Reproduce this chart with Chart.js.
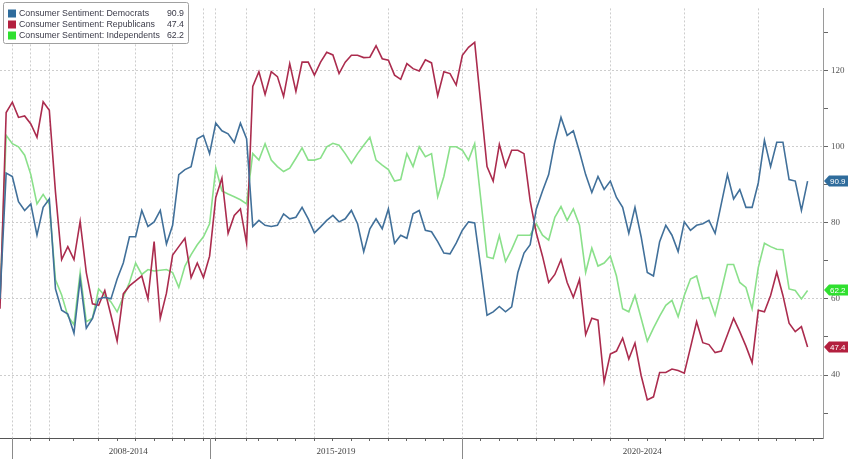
<!DOCTYPE html>
<html>
<head>
<meta charset="utf-8">
<script src="https://cdn.jsdelivr.net/npm/chart.js@4.4.1/dist/chart.umd.min.js"></script>
<style>
  html, body { margin: 0; padding: 0; background: #fff; }
  canvas { display: block; }
</style>
</head>
<body>
<canvas id="sentimentChart" width="848" height="459"></canvas>
<script>
// Series names shown in the legend box
const seriesNames = [
    "Consumer Sentiment: Democrats",
    "Consumer Sentiment: Republicans",
    "Consumer Sentiment: Independents"
];

const democrats = [
    60, 93, 92.1, 85.5, 83.2, 84.9, 76.7, 84, 86.2, 62.6,
    57, 56, 51, 65.2, 52.3, 54.9, 60, 60.4, 60, 65.2,
    69.4, 76.3, 76.3, 83.2, 79, 80.2, 83.2, 74.4, 79.3, 92.6,
    93.9, 94.7, 102, 102.9, 98.1, 106.1, 104.1, 103.3, 101, 106.1,
    102, 79, 80.6, 79.3, 79, 79.3, 82.3, 81, 81.4, 84,
    81, 77.3, 78.9, 80.6, 81.9, 80.2, 81, 83.2, 79.7, 72.4,
    78.4, 81, 78.4, 83.6, 74.6, 76.7, 75.9, 82.3, 83.2, 78,
    77.6, 75, 72, 71.8, 74.6, 78, 80.2, 79.9, 68, 55.7,
    56.6, 58, 56.6, 57.9, 66.9, 72, 74.2, 83.6, 88.3, 92.6,
    101.1, 107.6, 102.9, 104.1, 98.6, 92.6, 87.9, 92.1, 88.7, 90.9,
    86.6, 84, 77.2, 84, 76.3, 66.9, 66, 75, 79.3, 76.7,
    72.4, 80.2, 78, 79.3, 79.7, 80.6, 77.2, 84.9, 92.6, 86.2,
    88.7, 84, 84, 90.4, 101.6, 94.7, 101.1, 101.1, 91.3, 90.9,
    83.2, 90.9
];
const republicans = [
    57.4, 108.9, 111.6, 107.6, 108, 105.9, 102.4, 111.7, 109.5, 88,
    70.3, 73.7, 70.3, 80.3, 66.9, 58.7, 58.3, 62.2, 55.7, 48.9,
    61.3, 63.4, 64.7, 66, 60, 75, 54.9, 61.5, 71.5, 73.7,
    75.9, 65.6, 69.4, 65.6, 71.2, 86.6, 91.7, 77.2, 81.9, 83.6,
    74.6, 115.7, 119.6, 113.6, 119.6, 118.3, 113.1, 121.7, 114.4, 122.1,
    122.1, 118.7, 122.1, 124.7, 124, 119.1, 122.1, 123.9, 123.9, 123.3,
    123.4, 126.4, 123, 122.6, 118.7, 117.6, 121.7, 120.4, 119.8, 122.7,
    121.9, 113.3, 119.6, 119.1, 116.1, 123.9, 126, 127.3, 111, 94.7,
    90.9, 100.5, 94.7, 99, 99, 98.1, 85.7, 77.2, 71.2, 64.3,
    66.4, 70.3, 64.3, 60.4, 65.1, 50.6, 54.9, 54.4, 38.2, 45.5,
    46.3, 49.7, 44.2, 48.4, 39.9, 33.5, 34.3, 40.7, 40.7, 41.6,
    41.2, 40.5, 47.2, 54, 48.5, 48, 45.9, 46.3, 50.6, 54.9,
    51.4, 47.6, 43.3, 57, 56.6, 60.9, 67, 60.9, 53.6, 51.4,
    52.7, 47.4
];
const independents = [
    60, 102.9, 100.7, 99.9, 97.7, 92.6, 84.9, 87.4, 84.9, 65,
    61, 55.5, 53.2, 66.9, 54, 54.9, 62.6, 60.9, 59.2, 56.6,
    60.5, 64.3, 69.4, 66.4, 67.7, 67.3, 67.5, 67.7, 66.9, 63,
    68.6, 71.6, 74.2, 76.3, 79.7, 94.3, 88.3, 87.5, 86.8, 86,
    84.9, 98.1, 96.4, 100.7, 96.4, 94.7, 93.4, 94.3, 96.9, 99.6,
    96.4, 96.4, 96.9, 99.9, 100.8, 100.3, 98.1, 95.6, 98.1, 100.3,
    102.4, 96.4, 95.1, 93.9, 90.9, 91.3, 98.1, 94.7, 99.9, 97.3,
    98.1, 86.8, 92.1, 99.9, 99.9, 99, 96.4, 100.7, 86, 71,
    70.6, 76.6, 69.8, 73, 76.7, 76.7, 76.7, 79.7, 76.7, 75.4,
    81.4, 84.2, 80.6, 83.6, 79.3, 66.9, 73.3, 68.6, 69.4, 71.2,
    66, 57.4, 56.6, 60.9, 54.9, 48.9, 52.3, 55.5, 58.3, 59.6,
    55.3, 60.9, 65.2, 66, 60, 60.4, 55.7, 62.2, 69, 69,
    64.3, 63, 57.4, 68.2, 74.6, 73.7, 73, 72.9, 62.6, 62.2,
    60, 62.2
];

// Bottom axis: period labels, where they sit and where the periods split (observation index)
const periodLabels = ["2008-2014", "2015-2019", "2020-2024"];
const periodCenters = [20.8, 54.5, 104.2];
const periodBreaks = [2, 34, 75];

// Year gridlines and small axis ticks (observation index)
const yearLines = [2, 5, 8, 16, 22, 28, 33, 35, 40, 51, 63, 75, 87, 99, 111, 123];
const xMinorTicks = [2, 5, 8, 12, 16, 19, 22, 25, 28, 30, 33, 35, 40, 42, 45, 48,
    51, 54, 57, 60, 63, 66, 69, 72, 75, 78, 81, 84, 87, 90, 93, 96, 99, 102,
    105, 108, 111, 114, 117, 120, 123, 126, 129, 132];

// Right axis ticks: all get a mark, only these get a label and gridline
const yTicks = [30, 40, 50, 60, 70, 80, 90, 100, 110, 120, 130];
const yLabelTicks = [40, 60, 80, 100, 120];

const lineColors = ["#41709a", "#ab2c4e", "#8ae08a"];
const boxColors = ["#2f6c9c", "#b3203f", "#2fe02f"];

const axisFont = "'Liberation Serif', serif";
const legendFont = "8.8px 'Liberation Sans', sans-serif";
const tagFont = "8px 'Liberation Sans', sans-serif";

function lastValue(ds) {
    return ds.data[ds.data.length - 1].y;
}

// Period labels under the axis with their separator lines
const periodAxis = {
    id: "periodAxis",
    afterDraw(chart) {
        let ctx = chart.ctx;
        let x = chart.scales.x;
        let bottom = chart.chartArea.bottom;
        ctx.save();
        ctx.strokeStyle = "#8a8a8a";
        ctx.lineWidth = 1;
        periodBreaks.forEach(b => {
            let px = Math.round(x.getPixelForValue(b)) + 0.5;
            ctx.beginPath();
            ctx.moveTo(px, bottom);
            ctx.lineTo(px, chart.height);
            ctx.stroke();
        });
        ctx.fillStyle = "#444";
        ctx.font = "9px " + axisFont;
        ctx.textAlign = "center";
        ctx.textBaseline = "middle";
        periodLabels.forEach((t, i) => {
            ctx.fillText(t, x.getPixelForValue(periodCenters[i]), bottom + 14);
        });
        ctx.restore();
    }
};

// Legend box in the top-left corner with latest values
const boxLegend = {
    id: "boxLegend",
    afterDraw(chart) {
        let ctx = chart.ctx;
        ctx.save();
        ctx.fillStyle = "#fff";
        ctx.strokeStyle = "#a0a0a0";
        ctx.lineWidth = 1;
        ctx.beginPath();
        ctx.roundRect(3.5, 2.5, 185, 41, 2);
        ctx.fill();
        ctx.stroke();
        ctx.font = legendFont;
        ctx.textBaseline = "middle";
        chart.data.datasets.forEach((ds, i) => {
            let y = 13.5 + i * 11;
            ctx.fillStyle = boxColors[i];
            ctx.fillRect(8, y - 4, 8, 8);
            ctx.fillStyle = "#3a3a48";
            ctx.textAlign = "left";
            ctx.fillText(ds.label, 19, y);
            ctx.textAlign = "right";
            ctx.fillText(lastValue(ds).toFixed(1), 184, y);
        });
        ctx.restore();
    }
};

// Coloured tags on the right axis with the last value of each line
const lastValueTags = {
    id: "lastValueTags",
    afterDraw(chart) {
        let ctx = chart.ctx;
        let y = chart.scales.y;
        let left = chart.chartArea.right + 1;
        ctx.save();
        ctx.font = tagFont;
        ctx.textBaseline = "middle";
        ctx.textAlign = "left";
        chart.data.datasets.forEach((ds, i) => {
            let v = lastValue(ds);
            let py = Math.round(y.getPixelForValue(v));
            ctx.fillStyle = boxColors[i];
            ctx.beginPath();
            ctx.moveTo(left, py);
            ctx.lineTo(left + 5, py - 5.5);
            ctx.lineTo(chart.width, py - 5.5);
            ctx.lineTo(chart.width, py + 5.5);
            ctx.lineTo(left + 5, py + 5.5);
            ctx.closePath();
            ctx.fill();
            ctx.fillStyle = "#fff";
            ctx.fillText(v.toFixed(1), left + 6, py + 0.5);
        });
        ctx.restore();
    }
};

let ctx = document.getElementById("sentimentChart").getContext("2d");
window.sentimentChart = new Chart(ctx, {
    type: "line",
    data: {
        datasets: [democrats, republicans, independents].map((vals, i) => ({
            label: seriesNames[i],
            data: vals.map((v, j) => ({ x: j, y: v })),
            borderColor: lineColors[i],
            borderWidth: 1.6,
            pointRadius: 0,
            tension: 0,
            fill: false
        }))
    },
    options: {
        responsive: false,
        animation: false,
        layout: { padding: 0 },
        plugins: {
            legend: { display: false },
            tooltip: { enabled: false }
        },
        scales: {
            x: {
                type: "linear",
                min: 0,
                max: 133.5,
                afterBuildTicks: s => { s.ticks = xMinorTicks.map(v => ({ value: v })); },
                afterFit: s => { s.height = 21; },
                ticks: { display: false },
                grid: {
                    color: c => yearLines.includes(c.tick && c.tick.value) ? "#cdcdcd" : "rgba(0,0,0,0)",
                    lineWidth: 1,
                    drawTicks: true,
                    tickLength: 3,
                    tickColor: "#666"
                },
                border: { display: true, color: "#555", dash: [2, 2] }
            },
            y: {
                position: "right",
                min: 23.5,
                max: 136.2,
                afterBuildTicks: s => { s.ticks = yTicks.map(v => ({ value: v })); },
                afterFit: s => { s.width = 25; },
                ticks: {
                    autoSkip: false,
                    callback: v => yLabelTicks.includes(v) ? String(v) : "",
                    color: "#555",
                    font: { family: axisFont, size: 9 },
                    padding: 3
                },
                grid: {
                    color: c => yLabelTicks.includes(c.tick && c.tick.value) ? "#cdcdcd" : "rgba(0,0,0,0)",
                    lineWidth: 1,
                    tickLength: 5,
                    tickColor: "#666"
                },
                border: { display: true, color: "#9a9a9a", dash: [2, 2] }
            }
        }
    },
    plugins: [periodAxis, boxLegend, lastValueTags]
});
</script>
</body>
</html>
